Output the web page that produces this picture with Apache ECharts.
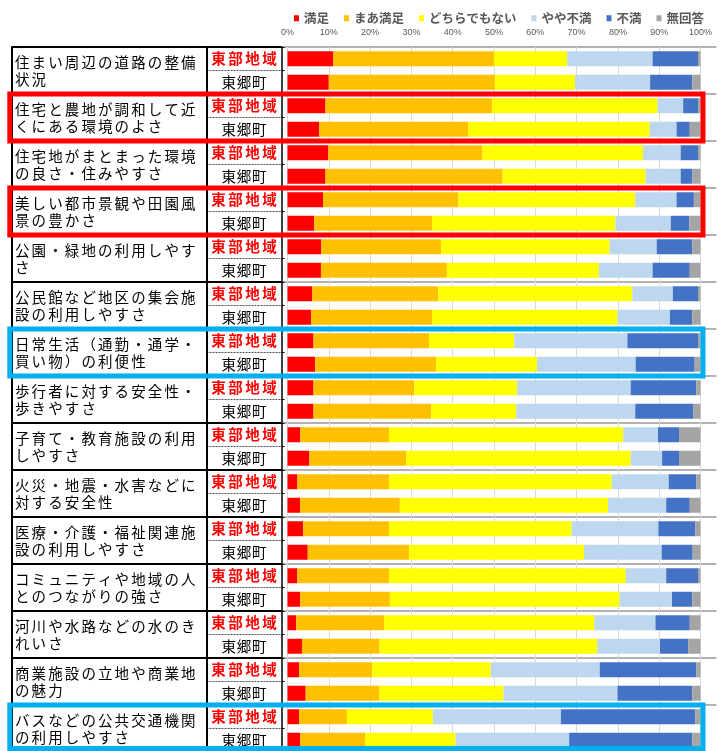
<!DOCTYPE html>
<html>
<head>
<meta charset="utf-8">
<script src="https://cdn.jsdelivr.net/npm/echarts@6/dist/echarts.min.js"></script>
<style>
  html, body { margin: 0; padding: 0; background: #fff; }
  #chart { width: 722px; height: 751px; }
</style>
</head>
<body>
<div id="chart"></div>
<script>
// Survey items (each one has a 東部地域 row and a 東郷町 row)
const items = [
  '住まい周辺の道路の整備状況',
  '住宅と農地が調和して近くにある環境のよさ',
  '住宅地がまとまった環境の良さ・住みやすさ',
  '美しい都市景観や田園風景の豊かさ',
  '公園・緑地の利用しやすさ',
  '公民館など地区の集会施設の利用しやすさ',
  '日常生活（通勤・通学・買い物）の利便性',
  '歩行者に対する安全性・歩きやすさ',
  '子育て・教育施設の利用しやすさ',
  '火災・地震・水害などに対する安全性',
  '医療・介護・福祉関連施設の利用しやすさ',
  'コミュニティや地域の人とのつながりの強さ',
  '河川や水路などの水のきれいさ',
  '商業施設の立地や商業地の魅力',
  'バスなどの公共交通機関の利用しやすさ'
];
const areas = ['東部地域', '東郷町'];
const responses = ['満足', 'まあ満足', 'どちらでもない', 'やや不満', '不満', '無回答'];

// Shares in %, row order: item 1 東部地域, item 1 東郷町, item 2 東部地域, ...
const satisfied          = [11.1, 10.0,  9.2,  7.7,  9.9,  9.2,  8.6,  6.5,  8.2,  8.1,  6.0,  5.7,  6.3,  6.7,  6.3,  6.3,  3.1,  5.3,  2.4,  3.1,  3.8,  4.9,  2.4,  3.1,  2.1,  3.5,  2.8,  4.4,  2.8,  3.1];
const fairlySatisfied    = [38.9, 40.2, 40.3, 36.0, 37.3, 42.9, 32.8, 28.5, 29.0, 30.5, 30.5, 29.3, 28.0, 29.3, 24.4, 28.5, 21.5, 23.4, 22.2, 24.1, 20.8, 24.5, 22.2, 21.7, 21.3, 18.8, 17.7, 17.9, 11.6, 15.7];
const neutral            = [17.7, 19.4, 40.1, 44.0, 38.9, 34.6, 42.8, 44.4, 40.8, 36.8, 47.0, 44.9, 20.6, 24.4, 24.9, 20.6, 56.7, 54.4, 53.9, 50.4, 44.2, 42.4, 57.3, 55.6, 50.9, 52.7, 28.7, 30.0, 20.8, 21.9];
const fairlyDissatisfied = [20.7, 18.2,  6.2,  6.5,  9.1,  8.5, 10.0, 13.4, 11.4, 13.0,  9.8, 12.7, 27.4, 23.9, 27.5, 28.8,  8.4,  7.6, 13.8, 14.1, 21.0, 18.8,  9.8, 12.7, 14.8, 15.2, 26.4, 27.6, 31.0, 27.5];
const dissatisfied       = [11.0, 10.2,  3.6,  3.2,  4.2,  2.8,  4.2,  4.5,  8.6,  9.0,  6.1,  5.4, 17.1, 14.3, 15.9, 14.0,  5.1,  4.1,  6.7,  5.7,  8.9,  7.5,  7.7,  4.9,  8.3,  6.8, 23.4, 18.1, 32.5, 29.8];
const noAnswer           = [ 0.6,  2.0,  0.6,  2.6,  0.6,  2.0,  1.6,  2.7,  2.0,  2.6,  0.6,  2.0,  0.6,  1.4,  1.0,  1.8,  5.2,  5.2,  1.0,  2.6,  1.3,  1.9,  0.6,  2.0,  2.6,  3.0,  1.0,  2.0,  1.3,  2.0];

const seriesValues = [satisfied, fairlySatisfied, neutral, fairlyDissatisfied, dissatisfied, noAnswer];
const seriesColors = ['#FF0000', '#FFC000', '#FFFF00', '#BDD7EE', '#4472C4', '#A5A5A5'];

// Items framed for emphasis
const framedItems = [
  { item: items[1],  color: '#FF0000' },
  { item: items[3],  color: '#FF0000' },
  { item: items[6],  color: '#00B0F0' },
  { item: items[14], color: '#00B0F0' }
];

// Layout
const TOP = 47, BOTTOM = -1;
const TABLE_LEFT = 12, CAT_COL_RIGHT = 206.5, AREA_COL_RIGHT = 281.5;
const PLOT_LEFT = 287.5, PLOT_WIDTH = 413, RULE_RIGHT = 716.5;
const FRAME_W = 5;
const CJK = '"Noto Sans CJK JP", "Noto Sans CJK SC", sans-serif';
const CHARS_PER_LINE = 11;

const rows = items.flatMap(() => areas);

function spaced(text, style) {
  return Array.from(text).map(ch => '{' + style + '|' + ch + '}').join('');
}
function itemLabel(name) {
  const chars = Array.from(name);
  const lines = [];
  for (let i = 0; i < chars.length; i += CHARS_PER_LINE) {
    lines.push(chars.slice(i, i + CHARS_PER_LINE).join(''));
  }
  return lines.map(l => spaced(l, 'c')).join('\n');
}
function areaLabel(name) {
  return name === areas[0] ? spaced(name, 'r') : spaced(name, 'k');
}

const chart = echarts.init(document.getElementById('chart'), null, { renderer: 'canvas' });

const gridBase = { top: TOP, bottom: BOTTOM, containLabel: false, outerBoundsMode: 'none' };

const option = {
  backgroundColor: '#ffffff',
  animation: false,
  legend: {
    data: responses,
    left: 289,
    top: 7,
    icon: 'rect',
    itemWidth: 5,
    itemHeight: 6,
    itemGap: 15,
    textStyle: { fontSize: 12.5, fontWeight: 'bold', color: '#595959', fontFamily: CJK }
  },
  grid: [
    Object.assign({ left: TABLE_LEFT, width: CAT_COL_RIGHT - TABLE_LEFT }, gridBase),
    Object.assign({ left: CAT_COL_RIGHT, width: AREA_COL_RIGHT - CAT_COL_RIGHT }, gridBase),
    Object.assign({ left: PLOT_LEFT, width: PLOT_WIDTH }, gridBase),
    Object.assign({ left: AREA_COL_RIGHT, width: RULE_RIGHT - AREA_COL_RIGHT }, gridBase)
  ],
  xAxis: [
    { gridIndex: 0, type: 'value', show: false },
    { gridIndex: 1, type: 'value', show: false },
    {
      gridIndex: 2, type: 'value', position: 'top',
      min: 0, max: 100, interval: 10,
      axisLine: { show: false },
      axisTick: { show: false },
      axisLabel: { formatter: '{value}%', fontSize: 9, color: '#595959', margin: 9.5, fontFamily: '"Liberation Sans", Arial, sans-serif' },
      splitLine: { show: true, lineStyle: { color: '#d9d9d9', width: 1 } }
    },
    { gridIndex: 3, type: 'value', show: false }
  ],
  yAxis: [
    // item names column
    {
      gridIndex: 0, type: 'category', data: items, inverse: true, position: 'left',
      axisLine: { show: true, lineStyle: { color: '#000', width: 2 } },
      axisTick: { show: false },
      splitLine: { show: true, lineStyle: { color: '#000', width: 2 } },
      axisLabel: {
        inside: true, margin: 3,
        formatter: itemLabel,
        rich: { c: { fontSize: 14.5, width: 16.6, lineHeight: 17, color: '#000', fontFamily: CJK } }
      }
    },
    // area names column
    {
      gridIndex: 1, type: 'category', data: rows, inverse: true, position: 'left',
      axisLine: { show: true, lineStyle: { color: '#000', width: 2 } },
      axisTick: { show: false },
      splitLine: { show: true, lineStyle: { color: '#555', width: 1, type: [2, 1] } },
      axisLabel: {
        inside: true, margin: (AREA_COL_RIGHT - CAT_COL_RIGHT) / 2, align: 'center',
        formatter: areaLabel,
        rich: {
          r: { fontSize: 14.5, width: 17, fontWeight: 'bold', color: '#FF0000', fontFamily: CJK },
          k: { fontSize: 14.5, width: 15.3, color: '#000', fontFamily: CJK }
        }
      }
    },
    {
      gridIndex: 1, type: 'category', data: items, inverse: true, position: 'left', z: 3,
      axisLine: { show: false }, axisTick: { show: false }, axisLabel: { show: false },
      splitLine: { show: true, lineStyle: { color: '#000', width: 2 } }
    },
    {
      gridIndex: 1, type: 'category', data: rows, inverse: true, position: 'right',
      axisLine: { show: true, lineStyle: { color: '#000', width: 1.5 } },
      axisTick: { show: true, inside: false, length: 3, lineStyle: { color: '#000', width: 1 } },
      axisLabel: { show: false },
      splitLine: { show: false }
    },
    // item separators across the plot
    {
      gridIndex: 3, type: 'category', data: items, inverse: true,
      axisLine: { show: false }, axisTick: { show: false }, axisLabel: { show: false },
      splitLine: { show: true, lineStyle: { color: '#999', width: 1.5 } }
    },
    // bar rows
    { gridIndex: 2, type: 'category', data: rows, inverse: true, show: false }
  ],
  series: responses.map((name, i) => ({
    name: name,
    type: 'bar',
    stack: 'share',
    xAxisIndex: 2,
    yAxisIndex: 5,
    barWidth: 15,
    itemStyle: { color: seriesColors[i] },
    emphasis: { disabled: true },
    data: seriesValues[i]
  }))
};

chart.setOption(option);

// Emphasis frames around selected items, placed from the axes
function drawFrames() {
  const c0 = chart.convertToPixel({ yAxisIndex: 0 }, items[0]);
  const c1 = chart.convertToPixel({ yAxisIndex: 0 }, items[1]);
  const band = c1 - c0;
  const x0 = TABLE_LEFT - 2.2;
  const x1 = chart.convertToPixel({ xAxisIndex: 2 }, 100) + 2.5;
  const maxBottom = chart.getHeight() - FRAME_W / 2;
  const elements = framedItems.map(f => {
    const yc = chart.convertToPixel({ yAxisIndex: 0 }, f.item);
    const top = yc - band / 2;
    const bottom = Math.min(yc + band / 2, maxBottom);
    return {
      type: 'rect',
      z: 100,
      silent: true,
      shape: { x: x0, y: top, width: x1 - x0, height: bottom - top },
      style: { fill: 'none', stroke: f.color, lineWidth: FRAME_W }
    };
  });
  chart.setOption({ graphic: { elements: elements } });
}
drawFrames();
</script>
</body>
</html>
